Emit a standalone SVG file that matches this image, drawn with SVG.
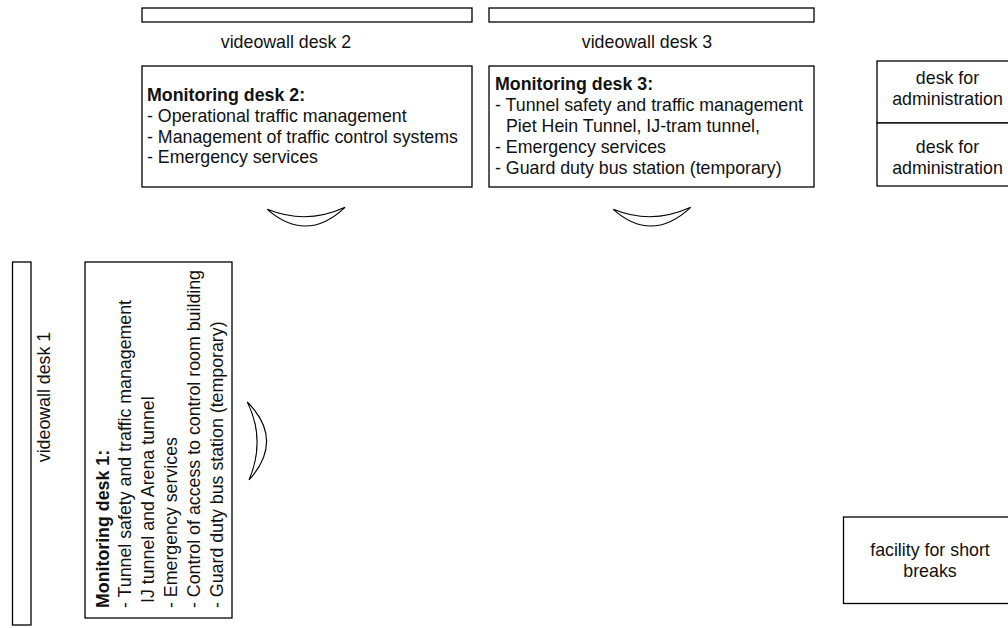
<svg xmlns="http://www.w3.org/2000/svg" width="1008" height="628" viewBox="0 0 1008 628">
<style>
.box{fill:#fff;stroke:#000;stroke-width:1.3}
.t{font-family:"Liberation Sans",Arial,sans-serif;font-size:17.8px;fill:#111}
.b{font-weight:bold}
.m{text-anchor:middle}
.sw{fill:none;stroke:#000;stroke-width:1.1}
</style>
<rect width="1008" height="628" fill="#fff"/>
<g id="videowall-desk-2">
<rect class="box" x="142" y="8" width="330" height="14"/>
<text class="t m" x="286" y="48">videowall desk 2</text>
</g>
<g id="videowall-desk-3">
<rect class="box" x="489" y="8" width="325" height="14"/>
<text class="t m" x="647" y="48">videowall desk 3</text>
</g>
<g id="monitoring-desk-2">
<rect class="box" x="142" y="66" width="330" height="121"/>
<text class="t" x="147" y="101"><tspan class="b">Monitoring desk 2:</tspan><tspan x="147" dy="20.8">- Operational traffic management</tspan><tspan x="147" dy="20.8">- Management of traffic control systems</tspan><tspan x="147" dy="20.8">- Emergency services</tspan></text>
</g>
<g id="monitoring-desk-3">
<rect class="box" x="489" y="66" width="325" height="121"/>
<text class="t" x="495" y="90"><tspan class="b">Monitoring desk 3:</tspan><tspan x="495" dy="21">- Tunnel safety and traffic management</tspan><tspan x="506" dy="21">Piet Hein Tunnel, IJ-tram tunnel,</tspan><tspan x="495" dy="21">- Emergency services</tspan><tspan x="495" dy="21">- Guard duty bus station (temporary)</tspan></text>
</g>
<g id="admin-desk-1">
<rect class="box" x="877" y="61" width="141" height="62"/>
<text class="t m" x="947.5" y="84">desk for<tspan x="947.5" dy="21">administration</tspan></text>
</g>
<g id="admin-desk-2">
<rect class="box" x="877" y="123" width="141" height="63"/>
<text class="t m" x="947.5" y="153">desk for<tspan x="947.5" dy="21">administration</tspan></text>
</g>
<g id="videowall-desk-1">
<rect class="box" x="12.5" y="262" width="18.5" height="363"/>
<text class="t m" transform="rotate(-90)" x="-397" y="49.5">videowall desk 1</text>
</g>
<g id="monitoring-desk-1">
<rect class="box" x="85" y="262" width="147" height="356"/>
<text class="t" transform="rotate(-90)" x="-608" y="108.5"><tspan class="b">Monitoring desk 1:</tspan><tspan x="-608" dy="22.8">- Tunnel safety and traffic management</tspan><tspan x="-603" dy="22.8">IJ tunnel and Arena tunnel</tspan><tspan x="-608" dy="22.8">- Emergency services</tspan><tspan x="-608" dy="22.8">- Control of access to control room building</tspan><tspan x="-608" dy="22.8">- Guard duty bus station (temporary)</tspan></text>
</g>
<g id="facility-short-breaks">
<rect class="box" x="843.5" y="517" width="174" height="86.5"/>
<text class="t m" x="930" y="556">facility for short<tspan x="930" dy="21">breaks</tspan></text>
</g>
<g id="connectors">
<path class="sw" d="M267.3,209.3 Q306.7,243.7 345,207.3 Q306.7,225.1 267.3,209.3 Z"/>
<path class="sw" d="M613.3,209.3 Q651.7,243.7 690.7,207.3 Q651.7,225.1 613.3,209.3 Z"/>
<path class="sw" d="M247.3,402 Q285,440 249,480 Q266,440 247.3,402 Z"/>
</g>
</svg>
